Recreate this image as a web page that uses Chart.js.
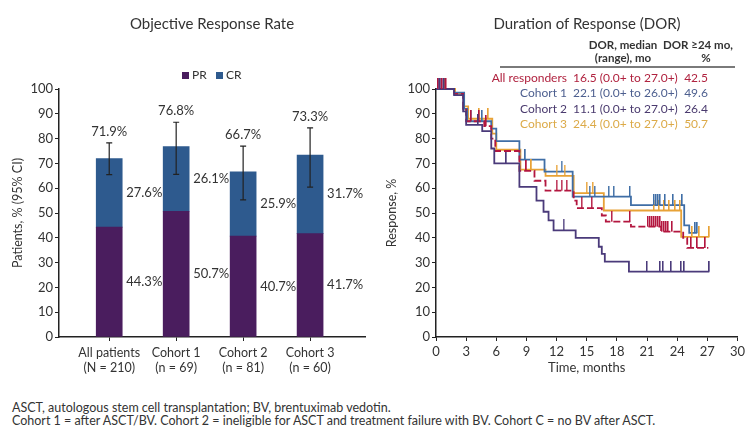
<!DOCTYPE html>
<html>
<head>
<meta charset="utf-8">
<script src="https://cdn.jsdelivr.net/npm/chart.js@4.4.1/dist/chart.umd.min.js"></script>
<style>
body { margin:0; background:#fff; width:748px; height:430px; overflow:hidden; position:relative;
       font-family: Lato, "Open Sans", sans-serif; color:#333; }
.abs { position:absolute; white-space:nowrap; }
canvas { position:absolute; top:0; }
.title { font-size:15px; line-height:18px; text-align:center; }
.lg { font-size:12px; line-height:14px; }
.lg span.box { display:inline-block; width:7px; height:7px; margin-right:3px; vertical-align:0; }
.row { font-size:12px; line-height:14px; }
.hd { font-size:11.5px; line-height:14px; font-weight:bold; color:#333; text-align:center; }
.foot { font-size:12.5px; line-height:13px; color:#333; left:12px; }
</style>
</head>
<body>
<canvas id="orr" width="380" height="380" style="left:0"></canvas>
<canvas id="dor" width="368" height="380" style="left:380px"></canvas>

<div class="abs title" style="left:112px; width:200px; top:14px;">Objective Response Rate</div>
<div class="abs lg" style="left:182px; top:68px;"><span class="box" style="background:#4a1d5e"></span>PR&nbsp;&nbsp;&nbsp;<span class="box" style="background:#2e5a8e"></span>CR</div>

<div class="abs title" style="left:487px; width:200px; top:14px;">Duration of Response (DOR)</div>
<div class="abs hd" style="left:573px; width:100px; top:38px;">DOR, median</div>
<div class="abs hd" style="left:573px; width:100px; top:51px;">(range), mo</div>
<div class="abs hd" style="left:658px; width:80px; top:38px;">DOR ≥24 mo,</div>
<div class="abs hd" style="left:666px; width:80px; top:51px;">%</div>
<div class="abs" style="left:500px; width:235px; top:66px; height:2px; background:#7a7a7a;"></div>
<div id="table"></div>

<div class="abs foot" style="top:401px;">ASCT, autologous stem cell transplantation; BV, brentuximab vedotin.</div>
<div class="abs foot" style="top:414px;">Cohort 1 = after ASCT/BV. Cohort 2 = ineligible for ASCT and treatment failure with BV. Cohort C = no BV after ASCT.</div>

<script>
// Objective response rate (bar chart)
const categories = ['All patients', 'Cohort 1', 'Cohort 2', 'Cohort 3'];
const groupSizes = ['(N = 210)', '(n = 69)', '(n = 81)', '(n = 60)'];
const prValues = [44.3, 50.7, 40.7, 41.7];
const crValues = [27.6, 26.1, 25.9, 31.7];
const orrValues = [71.9, 76.8, 66.7, 73.3];
const ciLow = [65.5, 65.6, 55.3, 60.4];
const ciHigh = [78.3, 86.6, 77.0, 84.3];
const percentTicks = [0, 10, 20, 30, 40, 50, 60, 70, 80, 90, 100];

// Duration of response (Kaplan-Meier steps: time of drop, new value)
const timeAll = [0, 1.8, 2.7, 3.0, 4.8, 5.5, 5.9, 8.3, 9.8, 10.9, 13.7, 14.0, 16.5, 16.9, 19.4, 22.4, 24.6, 25.0, 27.1];
const respAll = [100, 98, 92, 87, 85, 80, 75, 67, 63, 59, 55, 52, 49, 46.5, 44.5, 42.5, 40, 35.9, 35.9];
const timeC1 = [0, 1.8, 2.8, 3.1, 5.5, 6.0, 8.3, 10.8, 13.6, 19.4, 24.7, 25.2, 26.0];
const respC1 = [100, 98.5, 92, 87, 84, 79, 71.5, 66.7, 56.6, 53.2, 45, 42, 42];
const timeC2 = [0, 1.8, 2.7, 3.0, 4.6, 5.5, 5.8, 8.3, 10.0, 10.7, 11.2, 11.7, 13.9, 16.2, 16.5, 16.8, 19.2, 27.2];
const respC2 = [100, 97.5, 91, 85.5, 83, 76, 70, 60.5, 55, 50.5, 47, 43, 40, 36.4, 33.5, 30.4, 26.4, 26.4];
const timeC3 = [0, 1.9, 2.8, 3.2, 5.6, 6.0, 8.4, 10.9, 13.7, 16.7, 24.4, 27.2];
const respC3 = [100, 98, 93, 88, 82, 75.5, 67.5, 65, 58, 51, 40.4, 40.4];
// censored observations (months)
const censorAll = [0.2, 0.4, 0.6, 0.8, 1.0, 3.5, 4.3, 5.0, 9.0, 12.0, 12.5, 13.0, 14.5, 15.5, 17.5, 19.3, 21.1, 21.3, 21.5, 21.7, 21.9, 22.1, 22.3, 22.5, 22.7, 22.9, 23.1, 23.5, 25.4, 26.0, 26.8];
const censorC1 = [0.3, 0.6, 3.5, 4.6, 8.9, 12.5, 15.3, 15.8, 17.2, 17.7, 19.3, 21.7, 21.9, 22.1, 22.3, 22.8, 23.6, 24.5, 25.8, 26.0];
const censorC2 = [0.4, 0.8, 4.2, 7.0, 12.7, 21.0, 22.3, 22.6, 23.4, 24.4, 24.7, 27.2];
const censorC3 = [0.3, 0.9, 4.3, 5.2, 9.5, 12.0, 12.8, 15.0, 15.6, 21.7, 22.2, 22.7, 23.2, 23.8, 24.3, 25.5, 26.2, 27.2];
const timeTicks = [0, 3, 6, 9, 12, 15, 18, 21, 24, 27, 30];

const groupNames = ['All responders', 'Cohort 1', 'Cohort 2', 'Cohort 3'];
const medianText = ['16.5 (0.0+ to 27.0+)', '22.1 (0.0+ to 26.0+)', '11.1 (0.0+ to 27.0+)', '24.4 (0.0+ to 27.0+)'];
const dor24 = ['42.5', '49.6', '26.4', '50.7'];

const lineColors = ['#b3163f', '#3f6ea6', '#4a3a7a', '#e8a236'];
const textColors = ['#b0223f', '#4d5f8f', '#4a3a6e', '#dcaa48'];
const FONT = 'Lato, "Open Sans", sans-serif';
const INK = '#333';

// table rows
const table = document.getElementById('table');
groupNames.forEach((g, i) => {
    const top = 71 + i * 15.3;
    table.innerHTML +=
        `<div class="abs row" style="right:${748 - 567}px; top:${top}px; color:${textColors[i]}">${g}</div>` +
        `<div class="abs row" style="left:573px; top:${top}px; color:${textColors[i]}">${medianText[i]}</div>` +
        `<div class="abs row" style="left:666px; width:60px; text-align:center; top:${top}px; color:${textColors[i]}">${dor24[i]}</div>`;
});

// error bars and value labels
const orrMarks = {
    id: 'orrMarks',
    afterDatasetsDraw(chart) {
        const { ctx, scales: { x, y } } = chart;
        ctx.save();
        ctx.strokeStyle = '#222';
        ctx.lineWidth = 1.2;
        ctx.fillStyle = INK;
        ctx.font = '13px ' + FONT;
        categories.forEach((c, i) => {
            const px = x.getPixelForValue(i);
            const yl = y.getPixelForValue(ciLow[i]);
            const yh = y.getPixelForValue(ciHigh[i]);
            ctx.beginPath();
            ctx.moveTo(px, yl); ctx.lineTo(px, yh);
            ctx.moveTo(px - 3, yl); ctx.lineTo(px + 3, yl);
            ctx.moveTo(px - 3, yh); ctx.lineTo(px + 3, yh);
            ctx.stroke();
            ctx.textAlign = 'center';
            ctx.textBaseline = 'middle';
            ctx.fillText(orrValues[i].toFixed(1) + '%', px, yh - 11);
            ctx.textAlign = 'left';
            ctx.fillText(crValues[i].toFixed(1) + '%', px + 17, y.getPixelForValue(prValues[i] + crValues[i] / 2));
            ctx.fillText(prValues[i].toFixed(1) + '%', px + 17, y.getPixelForValue(prValues[i] / 2));
        });
        ctx.restore();
    }
};

new Chart(document.getElementById('orr'), {
    type: 'bar',
    data: {
        datasets: [{
            label: 'PR',
            data: prValues.map((v, i) => ({ x: i, y: v })),
            backgroundColor: '#4a1d5e',
            barThickness: 26
        }, {
            label: 'CR',
            data: crValues.map((v, i) => ({ x: i, y: v })),
            backgroundColor: '#2e5a8e',
            barThickness: 26
        }]
    },
    options: {
        responsive: false,
        animation: false,
        layout: { padding: { left: 8, top: 89, right: 15, bottom: 0 } },
        plugins: { legend: { display: false }, tooltip: { enabled: false } },
        scales: {
            x: {
                type: 'linear', stacked: true, offset: false,
                min: -0.75, max: 3.82,
                afterBuildTicks: s => { s.ticks = categories.map((c, i) => ({ value: i })); },
                afterFit: s => { s.height = 43; },
                border: { color: '#222', width: 1.5 },
                grid: { drawOnChartArea: false, offset: false, tickLength: 4, color: '#222' },
                ticks: {
                    color: INK, font: { family: FONT, size: 12.5 }, padding: 4,
                    callback: v => [categories[v], groupSizes[v]]
                }
            },
            y: {
                stacked: true, min: 0, max: 100,
                afterBuildTicks: s => { s.ticks = percentTicks.map(v => ({ value: v })); },
                afterFit: s => { s.width = 51; },
                border: { color: '#222', width: 1.5 },
                grid: { drawOnChartArea: false, tickLength: 4, color: '#222' },
                ticks: { color: INK, font: { family: FONT, size: 13 }, padding: 2 },
                title: { display: true, text: 'Patients, % (95% CI)', color: INK, font: { family: FONT, size: 12.5 }, padding: 2 }
            }
        }
    },
    plugins: [orrMarks]
});

// Kaplan-Meier helpers
function stepValue(times, values, t) {
    let v = values[0];
    for (let k = 0; k < times.length; k++) if (times[k] <= t) v = values[k];
    return v;
}
function tickMark(color) {
    const c = document.createElement('canvas');
    c.width = 2; c.height = 22;
    const g = c.getContext('2d');
    g.fillStyle = color;
    g.fillRect(0, 0, 1.5, 11);
    return c;
}

const curves = [
    [timeAll, respAll, censorAll, 2],
    [timeC1, respC1, censorC1, 3],
    [timeC2, respC2, censorC2, 1],
    [timeC3, respC3, censorC3, 4]
];
const dorSets = [];
curves.forEach(([times, values, cens, ord], i) => {
    dorSets.push({
        label: groupNames[i],
        data: times.map((t, k) => ({ x: t, y: values[k] })),
        showLine: true, stepped: true,
        borderColor: lineColors[i], borderWidth: 1.8,
        borderDash: i === 0 ? [7, 3] : [],
        pointRadius: 0, order: ord + 4, clip: false
    });
    dorSets.push({
        label: groupNames[i] + ' censored',
        data: cens.map(t => ({ x: t, y: stepValue(times, values, t) })),
        showLine: false,
        pointStyle: tickMark(lineColors[i]),
        pointRadius: 4, order: ord, clip: false
    });
});

new Chart(document.getElementById('dor'), {
    type: 'scatter',
    data: { datasets: dorSets },
    options: {
        responsive: false,
        animation: false,
        layout: { padding: { left: 2, top: 89, right: 8, bottom: 0 } },
        plugins: { legend: { display: false }, tooltip: { enabled: false } },
        scales: {
            x: {
                type: 'linear', min: 0, max: 30,
                afterBuildTicks: s => { s.ticks = timeTicks.map(v => ({ value: v })); },
                afterFit: s => { s.height = 43; },
                border: { color: '#222', width: 1.5 },
                grid: { drawOnChartArea: false, tickLength: 4, color: '#222' },
                ticks: { color: INK, font: { family: FONT, size: 13 }, padding: 3 },
                title: { display: true, text: 'Time, months', color: INK, font: { family: FONT, size: 13 }, padding: { top: 1 } }
            },
            y: {
                min: 0, max: 100,
                afterBuildTicks: s => { s.ticks = percentTicks.map(v => ({ value: v })); },
                afterFit: s => { s.width = 54; },
                border: { color: '#222', width: 1.5 },
                grid: { drawOnChartArea: false, tickLength: 4, color: '#222' },
                ticks: { color: INK, font: { family: FONT, size: 13 }, padding: 2 },
                title: { display: true, text: 'Response, %', color: INK, font: { family: FONT, size: 12.5 }, padding: 2 }
            }
        }
    }
});
</script>
</body>
</html>
